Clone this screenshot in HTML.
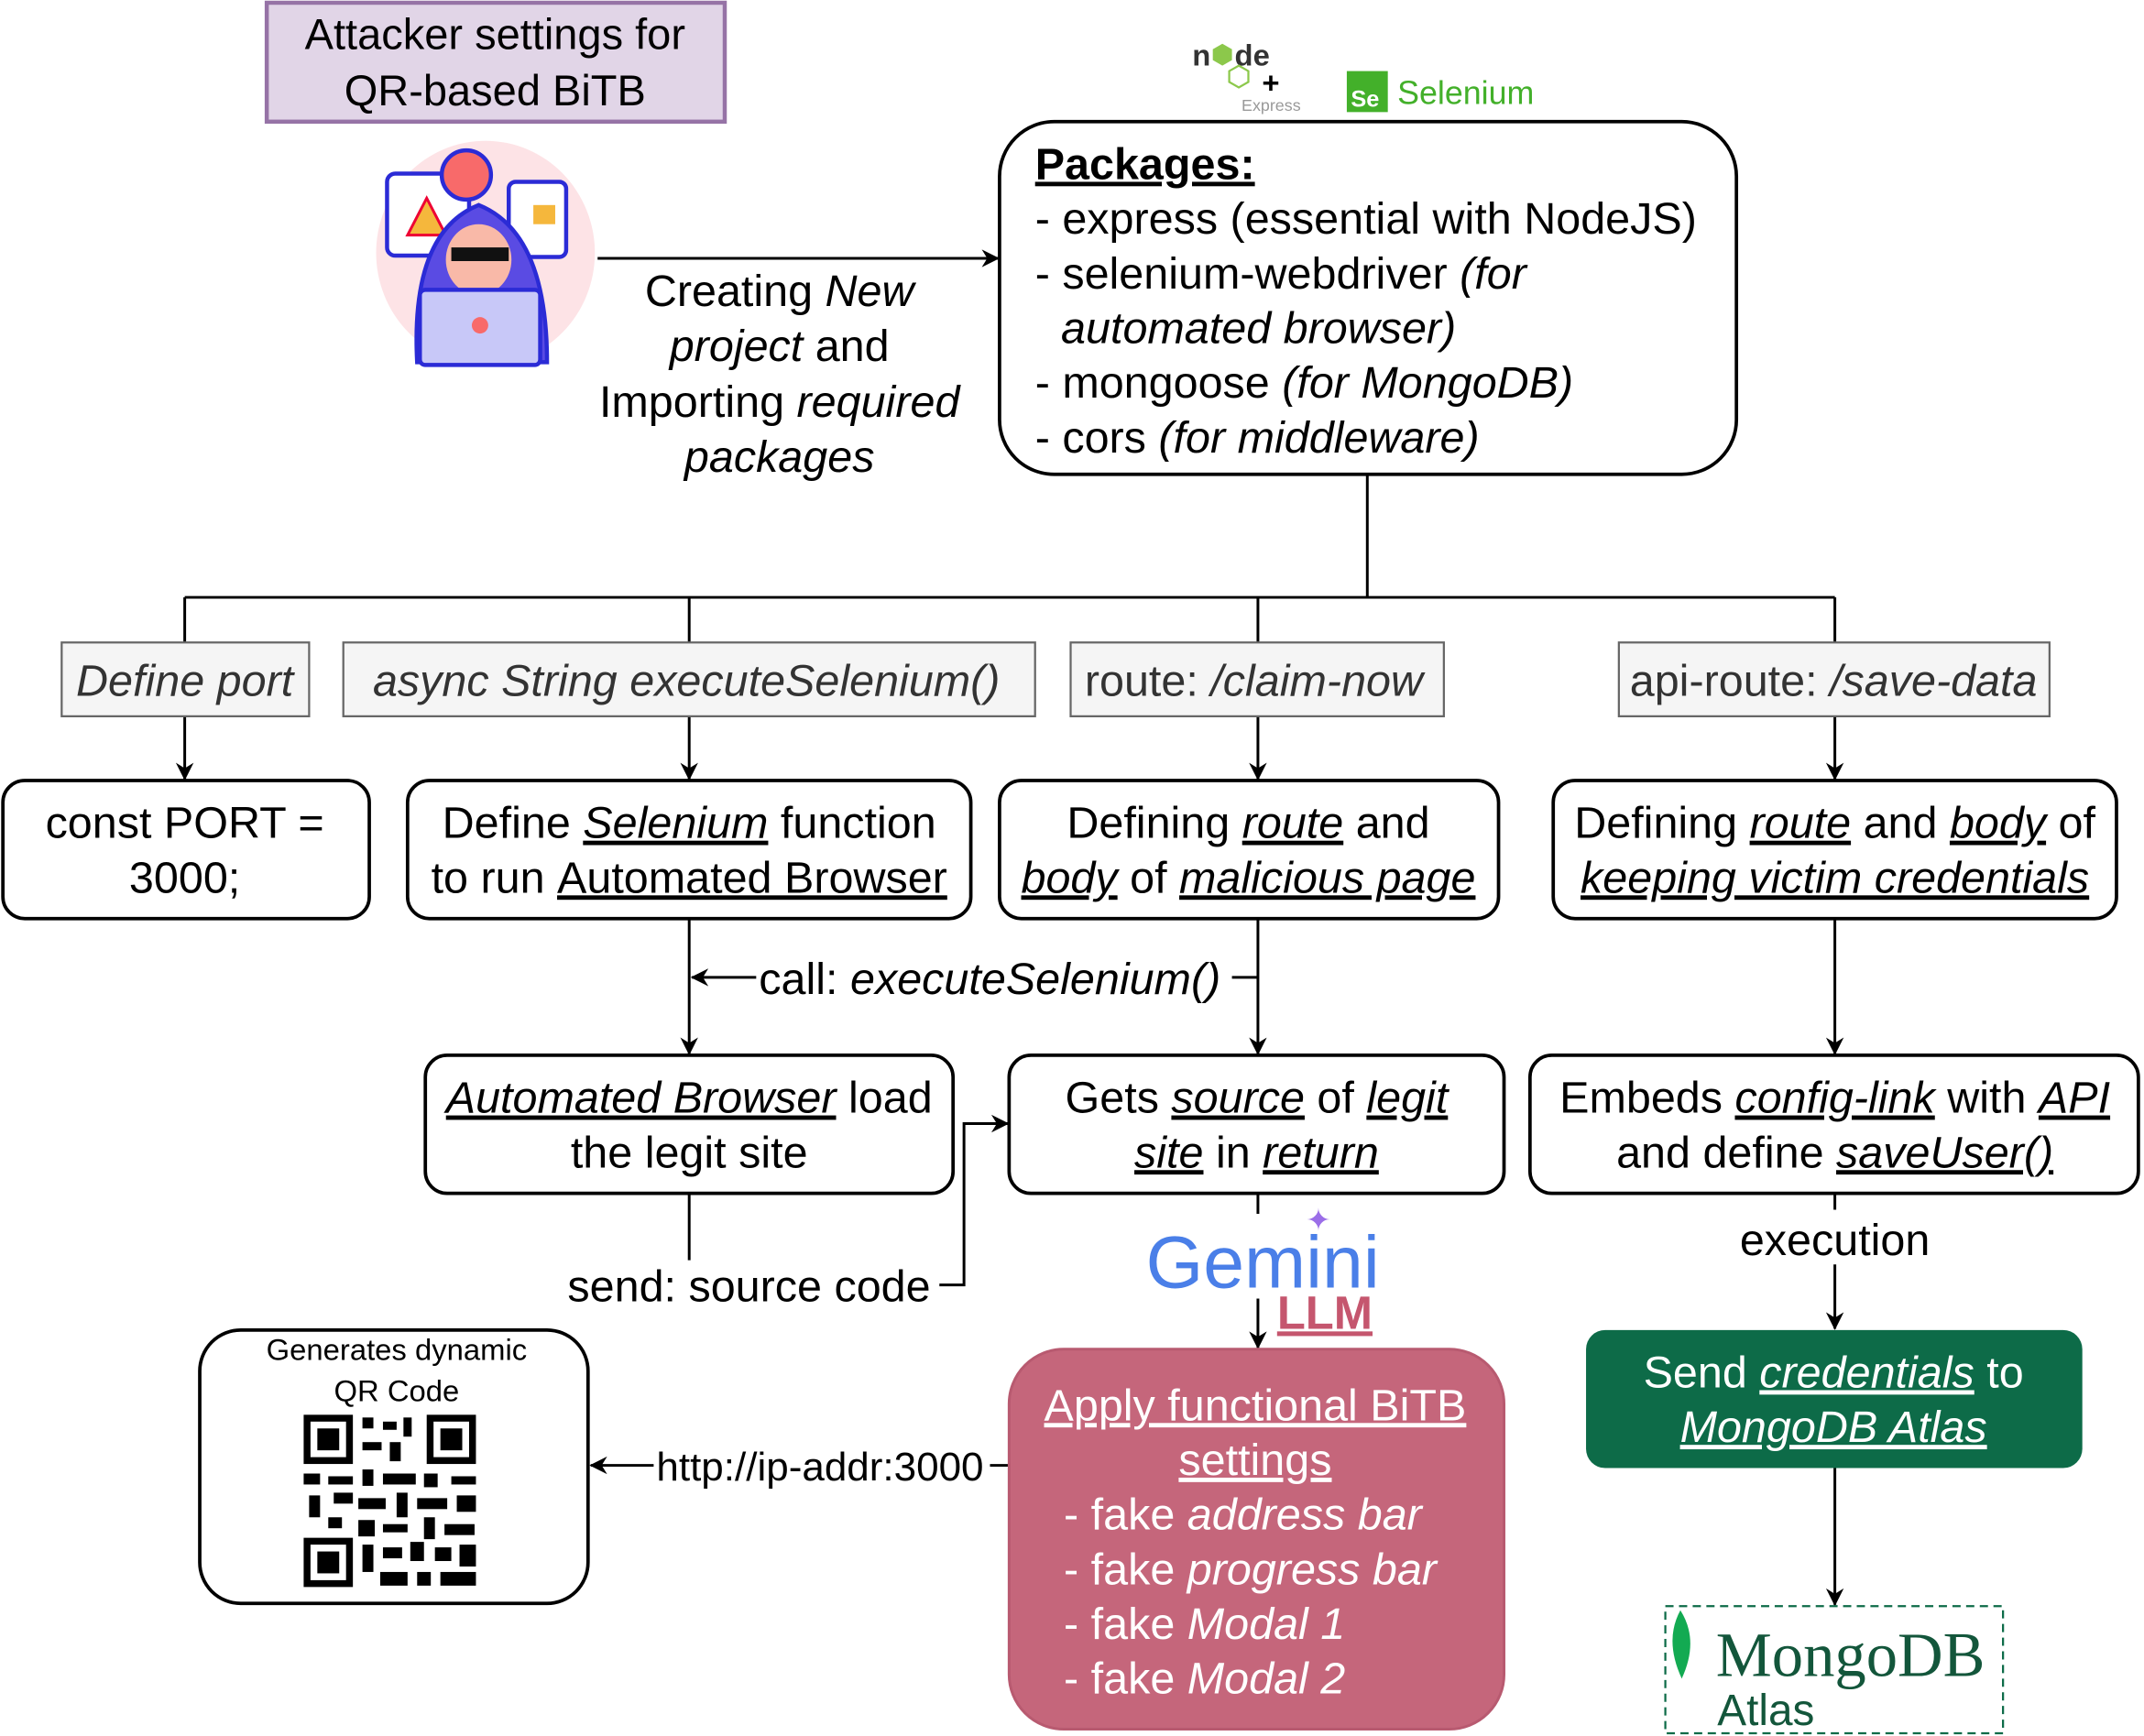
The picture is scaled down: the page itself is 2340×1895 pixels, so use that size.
<!DOCTYPE html>
<html><head><meta charset="utf-8"><style>
html,body{margin:0;padding:0;background:#fff}
svg{display:block}
text{font-family:"Liberation Sans",sans-serif}
text.serif{font-family:"Liberation Serif",serif}
</style></head><body>
<svg width="2340" height="1895" viewBox="0 0 1568 1270" xmlns="http://www.w3.org/2000/svg">
<defs>
<marker id="a" markerWidth="13" markerHeight="13" refX="12" refY="6.5" orient="auto" markerUnits="userSpaceOnUse" viewBox="0 0 13 13">
<path d="M0,0 L13,6.5 L0,13 L4,6.5 Z" fill="#000"/></marker>
</defs>
<rect width="1568" height="1270" fill="#fff"/>
<!-- title -->
<rect x="195" y="2" width="335" height="87" fill="#e1d5e7" stroke="#9673a6" stroke-width="3"/>
<text x="362" y="36" font-size="31.5" text-anchor="middle">Attacker settings for</text>
<text x="362" y="77" font-size="31.5" text-anchor="middle">QR-based BiTB</text>
<!-- hacker icon -->
<g>
<ellipse cx="355" cy="185" rx="80" ry="82" fill="#fde3e6"/>
<rect x="283" y="127" width="60" height="60" rx="6" fill="#fff" stroke="#2b2bd6" stroke-width="3"/>
<polygon points="312,145 298,172 326,172" fill="#f5b73c" stroke="#e03" stroke-width="2"/>
<rect x="372" y="133" width="42" height="55" rx="5" fill="#fff" stroke="#2b2bd6" stroke-width="3"/>
<rect x="390" y="150" width="16" height="14" fill="#f5b73c"/>
<path d="M305,265 Q300,170 350,150 Q400,170 400,265 Z" fill="#5a4be3" stroke="#2b2bd6" stroke-width="3"/>
<circle cx="341" cy="128" r="18" fill="#f86a6a" stroke="#2b2bd6" stroke-width="3"/>
<ellipse cx="350" cy="190" rx="24" ry="26" fill="#f9b9a8"/>
<rect x="330" y="181" width="42" height="10" fill="#111"/>
<rect x="307" y="212" width="88" height="55" rx="4" fill="#c8c8f8" stroke="#2b2bd6" stroke-width="3"/>
<circle cx="351" cy="238" r="6" fill="#f86a6a"/>
</g>
<!-- creating arrow -->
<line x1="437" y1="189" x2="730" y2="189" stroke="#000" stroke-width="2" marker-end="url(#a)"/>
<g font-size="32.5" text-anchor="middle">
<text x="570" y="224">Creating <tspan font-style="italic">New</tspan></text>
<text x="570" y="264"><tspan font-style="italic">project</tspan> and</text>
<text x="570" y="305">Importing <tspan font-style="italic">required</tspan></text>
<text x="570" y="345" font-style="italic">packages</text>
</g>
<!-- logos -->
<text x="872" y="48" font-size="22" font-weight="bold" fill="#333">n</text>
<polygon points="894,32 901,36 901,44 894,48 887,44 887,36" fill="#8cc84b"/>
<text x="903" y="48" font-size="22" font-weight="bold" fill="#333">de</text>
<polygon points="906,48 913,52 913,60 906,64 899,60 899,52" fill="none" stroke="#8cc84b" stroke-width="1.5"/>
<text x="923" y="68" font-size="22" font-weight="bold">+</text>
<text x="908" y="81" font-size="12" fill="#999">Express</text>
<rect x="985" y="52" width="30" height="30" fill="#43b02a"/>
<text x="988" y="78" font-size="17" font-weight="bold" fill="#fff">Se</text>
<text x="1022" y="76" font-size="24" fill="#43b02a">Selenium</text>
<!-- packages -->
<rect x="731" y="89" width="539" height="258" rx="40" fill="#fff" stroke="#000" stroke-width="2.5"/>
<g font-size="32.5">
<text x="757" y="131" font-weight="bold" text-decoration="underline">Packages:</text>
<text x="757" y="171">- express (essential with NodeJS)</text>
<text x="757" y="211">- selenium-webdriver <tspan font-style="italic">(for</tspan></text>
<text x="776" y="251" font-style="italic">automated browser)</text>
<text x="757" y="291">- mongoose <tspan font-style="italic">(for MongoDB)</tspan></text>
<text x="757" y="331">- cors <tspan font-style="italic">(for middleware)</tspan></text>
</g>
<!-- tree -->
<g stroke="#000" stroke-width="2" fill="none">
<line x1="1000" y1="347" x2="1000" y2="437"/>
<line x1="135" y1="437" x2="1342" y2="437"/>
<line x1="135" y1="437" x2="135" y2="470"/>
<line x1="504" y1="437" x2="504" y2="470"/>
<line x1="920" y1="437" x2="920" y2="470"/>
<line x1="1342" y1="437" x2="1342" y2="470"/>
<line x1="135" y1="524" x2="135" y2="570" marker-end="url(#a)"/>
<line x1="504" y1="524" x2="504" y2="570" marker-end="url(#a)"/>
<line x1="920" y1="524" x2="920" y2="570" marker-end="url(#a)"/>
<line x1="1342" y1="524" x2="1342" y2="570" marker-end="url(#a)"/>
</g>
<g fill="#f5f5f5" stroke="#666" stroke-width="1.5">
<rect x="45" y="470" width="181" height="54"/>
<rect x="251" y="470" width="506" height="54"/>
<rect x="783" y="470" width="273" height="54"/>
<rect x="1184" y="470" width="315" height="54"/>
</g>
<g font-size="32.5" fill="#333" text-anchor="middle">
<text x="135" y="509" font-style="italic">Define port</text>
<text x="502" y="509" font-style="italic">async String executeSelenium()</text>
<text x="917" y="509">route: <tspan font-style="italic">/claim-now</tspan></text>
<text x="1341" y="509">api-route: <tspan font-style="italic">/save-data</tspan></text>
</g>
<!-- boxes -->
<g fill="#fff" stroke="#000" stroke-width="2.5">
<rect x="2" y="571" width="268" height="101" rx="16"/>
<rect x="298" y="571" width="412" height="101" rx="16"/>
<rect x="731" y="571" width="365" height="101" rx="16"/>
<rect x="1136" y="571" width="412" height="101" rx="16"/>
<rect x="311" y="772" width="386" height="101" rx="16"/>
<rect x="738" y="772" width="362" height="101" rx="16"/>
<rect x="1119" y="772" width="445" height="101" rx="16"/>
<rect x="146" y="973" width="284" height="200" rx="30"/>
</g>
<g font-size="32.5" text-anchor="middle">
<text x="135" y="613">const PORT =</text>
<text x="135" y="653">3000;</text>
<text x="504" y="613">Define <tspan font-style="italic" text-decoration="underline">Selenium</tspan> function</text>
<text x="504" y="653">to run <tspan text-decoration="underline">Automated Browser</tspan></text>
<text x="913" y="613">Defining <tspan font-style="italic" text-decoration="underline">route</tspan> and</text>
<text x="913" y="653"><tspan font-style="italic" text-decoration="underline">body</tspan> of <tspan font-style="italic" text-decoration="underline">malicious page</tspan></text>
<text x="1342" y="613">Defining <tspan font-style="italic" text-decoration="underline">route</tspan> and <tspan font-style="italic" text-decoration="underline">body</tspan> of</text>
<text x="1342" y="653" font-style="italic" text-decoration="underline">keeping victim credentials</text>
<text x="504" y="814"><tspan font-style="italic" text-decoration="underline">Automated Browser</tspan> load</text>
<text x="504" y="854">the legit site</text>
<text x="919" y="814">Gets <tspan font-style="italic" text-decoration="underline">source</tspan> of <tspan font-style="italic" text-decoration="underline">legit</tspan></text>
<text x="919" y="854"><tspan font-style="italic" text-decoration="underline">site</tspan> in <tspan font-style="italic" text-decoration="underline">return</tspan></text>
<text x="1342" y="814">Embeds <tspan font-style="italic" text-decoration="underline">config-link</tspan> with <tspan font-style="italic" text-decoration="underline">API</tspan></text>
<text x="1342" y="854">and define <tspan font-style="italic" text-decoration="underline">saveUser()</tspan></text>
</g>
<!-- connectors mid -->
<g stroke="#000" stroke-width="2" fill="none">
<line x1="504" y1="672" x2="504" y2="771" marker-end="url(#a)"/>
<line x1="920" y1="672" x2="920" y2="771" marker-end="url(#a)"/>
<line x1="920" y1="715" x2="506" y2="715" marker-end="url(#a)"/>
<line x1="1342" y1="672" x2="1342" y2="771" marker-end="url(#a)"/>
<polyline points="504,873 504,922"/>
<polyline points="687,940 705,940 705,822 737,822" marker-end="url(#a)"/>
<line x1="1342" y1="873" x2="1342" y2="885"/>
<line x1="1342" y1="925" x2="1342" y2="972" marker-end="url(#a)"/>
<line x1="1342" y1="1074" x2="1342" y2="1174" marker-end="url(#a)"/>
<line x1="738" y1="1072" x2="432" y2="1072" marker-end="url(#a)"/>
</g>
<rect x="553" y="697" width="348" height="38" fill="#fff"/>
<text x="555" y="727" font-size="32.5">call: <tspan font-style="italic">executeSelenium()</tspan></text>
<rect x="412" y="922" width="274" height="38" fill="#fff"/>
<text x="415" y="952" font-size="32.5">send: source code</text>
<text x="1342" y="918" font-size="32.5" text-anchor="middle">execution</text>
<rect x="478" y="1055" width="246" height="36" fill="#fff"/>
<text x="480" y="1083" font-size="29.5">http://ip-addr:3000</text>
<!-- gemini -->
<line x1="920" y1="873" x2="920" y2="888" stroke="#000" stroke-width="2"/>
<text x="838" y="942" font-size="54" fill="#4a7fe8">Gemini</text>
<text x="955" y="900" font-size="22" fill="#9b6ee8">✦</text>
<text x="934" y="972" font-size="34" font-weight="bold" fill="#c5566e" text-decoration="underline">LLM</text>
<line x1="920" y1="950" x2="920" y2="986" stroke="#000" stroke-width="2" marker-end="url(#a)"/>
<!-- red box -->
<rect x="738" y="987" width="362" height="278" rx="40" fill="#c5667b" stroke="#b85a70" stroke-width="2"/>
<g font-size="32.5" fill="#fff">
<text x="918" y="1039" text-anchor="middle" text-decoration="underline">Apply functional BiTB</text>
<text x="918" y="1079" text-anchor="middle" text-decoration="underline">settings</text>
<text x="778" y="1119">- fake <tspan font-style="italic">address bar</tspan></text>
<text x="778" y="1159">- fake <tspan font-style="italic">progress bar</tspan></text>
<text x="778" y="1199">- fake <tspan font-style="italic">Modal 1</tspan></text>
<text x="778" y="1239">- fake <tspan font-style="italic">Modal 2</tspan></text>
</g>
<!-- QR -->
<text x="290" y="995" font-size="22" text-anchor="middle">Generates dynamic</text>
<text x="290" y="1025" font-size="22" text-anchor="middle">QR Code</text>
<g fill="#000">
<rect x="222" y="1035" width="36" height="36"/><rect x="227" y="1040" width="26" height="26" fill="#fff"/><rect x="232" y="1045" width="16" height="16"/>
<rect x="312" y="1035" width="36" height="36"/><rect x="317" y="1040" width="26" height="26" fill="#fff"/><rect x="322" y="1045" width="16" height="16"/>
<rect x="222" y="1125" width="36" height="36"/><rect x="227" y="1130" width="26" height="26" fill="#fff"/><rect x="232" y="1135" width="16" height="16"/>
<rect x="265" y="1037" width="8" height="8"/><rect x="280" y="1040" width="10" height="6"/><rect x="295" y="1037" width="6" height="14"/>
<rect x="265" y="1055" width="14" height="6"/><rect x="285" y="1055" width="8" height="14"/>
<rect x="222" y="1078" width="12" height="8"/><rect x="240" y="1080" width="18" height="6"/><rect x="265" y="1075" width="8" height="12"/>
<rect x="280" y="1078" width="24" height="8"/><rect x="310" y="1078" width="10" height="10"/><rect x="330" y="1080" width="18" height="6"/>
<rect x="226" y="1094" width="8" height="16"/><rect x="244" y="1092" width="14" height="8"/><rect x="262" y="1096" width="20" height="8"/>
<rect x="290" y="1092" width="8" height="18"/><rect x="305" y="1096" width="22" height="8"/><rect x="334" y="1094" width="14" height="12"/>
<rect x="240" y="1110" width="10" height="8"/><rect x="262" y="1112" width="12" height="12"/><rect x="280" y="1115" width="18" height="6"/>
<rect x="310" y="1110" width="8" height="16"/><rect x="325" y="1115" width="22" height="8"/>
<rect x="265" y="1130" width="8" height="20"/><rect x="280" y="1132" width="14" height="8"/><rect x="300" y="1128" width="10" height="14"/>
<rect x="318" y="1132" width="12" height="10"/><rect x="336" y="1130" width="12" height="16"/>
<rect x="278" y="1150" width="20" height="10"/><rect x="305" y="1150" width="10" height="10"/><rect x="322" y="1150" width="26" height="10"/>
</g>
<!-- green -->
<rect x="1160" y="973" width="363" height="101" rx="14" fill="#0d6b48"/>
<g font-size="32.5" fill="#fff" text-anchor="middle">
<text x="1341" y="1015">Send <tspan font-style="italic" text-decoration="underline">credentials</tspan> to</text>
<text x="1341" y="1055" font-style="italic" text-decoration="underline">MongoDB Atlas</text>
</g>
<!-- mongodb -->
<rect x="1218" y="1175" width="247" height="93" fill="none" stroke="#0d6b48" stroke-width="1.5" stroke-dasharray="6,4"/>
<path d="M1229,1178 Q1243,1200 1230,1228 Q1217,1200 1229,1178 Z" fill="#13aa52"/>
<text class="serif" x="1255" y="1226" font-size="46" fill="#13563b">MongoDB</text>
<text x="1256" y="1262" font-size="32" fill="#13563b">Atlas</text>
</svg>
</body></html>
